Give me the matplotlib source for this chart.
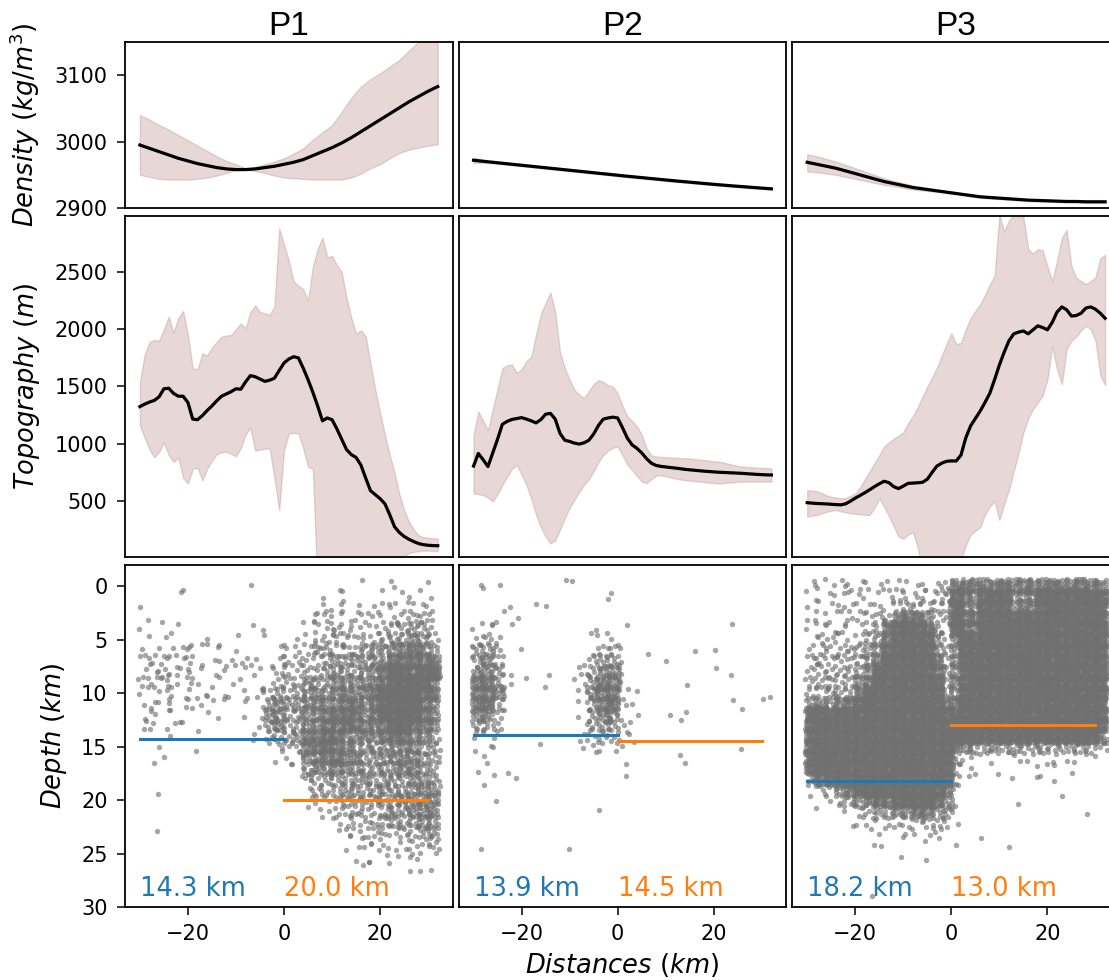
import numpy as np
import matplotlib
matplotlib.use("Agg")
import matplotlib.pyplot as plt
from matplotlib.gridspec import GridSpec

profiles = ["P1", "P2", "P3"]

# density models (kg/m^3) along each profile, every 2 km
dens_x = np.arange(-30, 33, 2)
dens_mean = [
    [2995, 2990, 2985, 2980, 2975, 2971, 2967, 2964, 2961, 2959, 2958, 2958, 2959, 2961, 2963, 2966,
     2969, 2973, 2979, 2985, 2991, 2998, 3006, 3015, 3024, 3033, 3042, 3051, 3060, 3068, 3076, 3083],
    [2972, 2970.5, 2969, 2967.5, 2966, 2964.5, 2963, 2961.5, 2960, 2958.5, 2957, 2955.5, 2954, 2952.5,
     2951, 2949.5, 2948, 2946.6, 2945.2, 2943.8, 2942.4, 2941, 2939.7, 2938.4, 2937.1, 2935.8, 2934.6,
     2933.4, 2932.3, 2931.2, 2930.1, 2929],
    [2969, 2966, 2963, 2960, 2956, 2952, 2948, 2944, 2940, 2937, 2934, 2931, 2929, 2927, 2925, 2923,
     2921, 2919, 2917, 2916, 2915, 2914, 2913, 2912, 2911.5, 2911, 2910.5, 2910, 2910, 2909.5, 2909.5, 2909.5],
]
dens_low = [
    [2950, 2947, 2944, 2943, 2943, 2943, 2944, 2946, 2949, 2953, 2957, 2958, 2956, 2953, 2949, 2946,
     2945, 2944, 2943, 2943, 2943, 2943, 2946, 2952, 2960, 2966, 2975, 2983, 2988, 2991, 2994, 2996],
    [2968, 2968, 2967.5, 2966, 2964.5, 2963, 2961.5, 2960, 2958.5, 2957, 2955.5, 2954, 2952.5, 2951,
     2949.5, 2948, 2946.5, 2945.1, 2943.7, 2942.3, 2940.9, 2939.5, 2938.2, 2936.9, 2935.6, 2934.3, 2933.1,
     2931.9, 2930.8, 2929.7, 2928.6, 2927.5],
    [2955, 2954, 2952, 2950, 2947, 2944, 2941, 2938, 2935, 2933, 2930.5, 2928, 2926.5, 2925, 2923.5, 2921.5,
     2919.5, 2917.5, 2915.5, 2914.5, 2913.5, 2912.5, 2911.5, 2910.5, 2910, 2909.5, 2909, 2908.5, 2908.5,
     2908, 2908, 2908],
]
dens_high = [
    [3040, 3033, 3025, 3018, 3010, 3002, 2994, 2986, 2978, 2971, 2966, 2960, 2962, 2966, 2970, 2975,
     2982, 2990, 3003, 3014, 3025, 3045, 3066, 3083, 3094, 3103, 3113, 3123, 3137, 3150, 3165, 3180],
    [2976, 2973, 2970.5, 2969, 2967.5, 2966, 2964.5, 2963, 2961.5, 2960, 2958.5, 2957, 2955.5, 2954,
     2952.5, 2951, 2949.5, 2948.1, 2946.7, 2945.3, 2943.9, 2942.5, 2941.2, 2939.9, 2938.6, 2937.3, 2936.1,
     2934.9, 2933.8, 2932.7, 2931.6, 2930.5],
    [2981, 2978, 2974, 2970, 2965, 2960, 2955, 2950, 2945, 2941, 2937.5, 2934, 2931.5, 2929, 2926.5, 2924.5,
     2922.5, 2920.5, 2918.5, 2917.5, 2916.5, 2915.5, 2914.5, 2913.5, 2913, 2912.5, 2912, 2911.5, 2911.5,
     2911, 2911, 2911],
]

# topography (m) along each profile, every 1 km
topo_x = np.arange(-30, 33, 1)
topo_mean = [
    [1324, 1346, 1364, 1378, 1410, 1480, 1485, 1440, 1415, 1415,
     1360, 1215, 1210, 1245, 1290, 1330, 1375, 1415, 1435, 1455,
     1480, 1476, 1540, 1595, 1585, 1565, 1545, 1555, 1572, 1640,
     1705, 1740, 1760, 1750, 1660, 1560, 1450, 1330, 1200, 1225,
     1210, 1130, 1040, 950, 905, 880, 814, 700, 590, 555,
     520, 475, 380, 275, 225, 190, 165, 145, 128, 118,
     113, 110, 109],
    [805, 915, 860, 800, 920, 1040, 1170, 1195, 1212, 1220,
     1228, 1215, 1200, 1182, 1210, 1258, 1265, 1215, 1090, 1030,
     1020, 1005, 997, 1008, 1030, 1085, 1160, 1215, 1225, 1232,
     1225, 1140, 1050, 990, 960, 920, 870, 830, 810, 802,
     797, 792, 787, 782, 776, 772, 768, 764, 760, 757,
     754, 751, 749, 747, 745, 743, 741, 738, 735, 732,
     730, 728, 727],
    [485, 481, 478, 476, 474, 471, 468, 466, 475, 498,
     525, 548, 572, 598, 625, 650, 672, 660, 625, 608,
     630, 654, 656, 659, 663, 690, 750, 805, 830, 846,
     850, 849, 900, 1050, 1155, 1220, 1285, 1360, 1440, 1560,
     1688, 1800, 1900, 1960, 1975, 1985, 1960, 1995, 2030, 2015,
     1995, 2060, 2150, 2195, 2170, 2115, 2120, 2140, 2185, 2195,
     2175, 2140, 2096],
]
topo_low = [
    [1160, 1050, 950, 880, 930, 1010, 900, 840, 880, 700,
     650, 780, 790, 680, 780, 850, 910, 925, 930, 910,
     890, 960, 1080, 1140, 940, 950, 955, 960, 700, 420,
     940, 1090, 1095, 1090, 960, 800, 780, -300, -300, -300,
     -300, -300, -300, -300, -300, -300, -300, -300, -300, -300,
     -300, -300, -300, -300, -100, 20, 45, 55, 62, 66,
     66, 64, 62],
    [567, 560, 550, 530, 495, 560, 640, 710, 780, 815,
     730, 640, 520, 380, 270, 190, 130, 155, 250, 350,
     440, 510, 580, 640, 690, 760, 840, 900, 940, 965,
     975, 900, 820, 770, 720, 670, 655, 690, 720, 725,
     715, 705, 695, 688, 683, 678, 674, 670, 665, 660,
     656, 654, 656, 660, 664, 667, 669, 670, 670, 670,
     670, 669, 669],
    [363, 370, 378, 392, 405, 415, 421, 410, 400, 392,
     388, 383, 379, 378, 440, 520, 450, 370, 280, 190,
     170, 205, 230, 90, -100, -250, -250, -250, -250, -250,
     -250, -250, -20, 110, 205, 240, 270, 380, 450, 500,
     334, 470, 600, 760, 920, 1100, 1220, 1300, 1360, 1420,
     1560, 1850, 1650, 1520, 1830, 1900, 1935, 1990, 2030, 2000,
     1900, 1600, 1514],
]
topo_high = [
    [1540, 1780, 1890, 1905, 1900, 2000, 2110, 1970, 2100, 2160,
     1950, 1660, 1650, 1790, 1770, 1840, 1890, 1935, 1945, 1950,
     2000, 2050, 2010, 2150, 2210, 2150, 2140, 2125, 2200, 2880,
     2740, 2600, 2420, 2380, 2350, 2250, 2550, 2700, 2800, 2630,
     2640, 2560, 2500, 2280, 2100, 1960, 1990, 1940, 1700, 1470,
     1270, 1080, 900, 750, 560, 420, 320, 250, 200, 185,
     178, 175, 172],
    [1080, 1280, 1200, 1120, 1300, 1480, 1660, 1685, 1692, 1620,
     1650, 1720, 1760, 1950, 2130, 2230, 2320, 2150, 1800, 1660,
     1560, 1470, 1430, 1400, 1460, 1520, 1555, 1540, 1510, 1500,
     1440, 1330, 1240, 1200, 1150, 1080, 960, 900, 888, 885,
     882, 880, 878, 875, 873, 870, 866, 862, 857, 852,
     847, 843, 835, 825, 815, 805, 800, 797, 794, 791,
     789, 787, 785],
    [596, 590, 585, 570, 548, 536, 530, 524, 525, 545,
     565, 620, 690, 760, 830, 900, 975, 1010, 1045, 1070,
     1100, 1180, 1240, 1320, 1410, 1500, 1580, 1665, 1770, 1870,
     1965, 1870, 1880, 2000, 2096, 2160, 2220, 2300, 2390, 2470,
     3000, 2850, 2950, 3000, 3010, 2980, 2700, 2660, 2700, 2690,
     2550, 2420, 2600, 2800, 2868, 2550, 2450, 2420, 2395, 2420,
     2455, 2620, 2650],
]

# seismicity: events per cell, one row per km of depth (0-29 km),
# one character per 2 km of distance starting at -32 km
level_count = {"0": 0, "1": 1, "2": 2, "3": 4, "4": 7, "5": 11, "6": 18, "7": 32}
quakes = [
    [  # P1
        "00000100 00001000 00000101 00020001",
        "00000100 00000000 00001110 01111211",
        "01000000 00000000 00012211 12112211",
        "00110000 00000100 00122222 22232332",
        "01001000 00000100 00123322 22233442",
        "01011110 11010010 11223322 33344543",
        "02122211 11110001 22333333 44456654",
        "02222211 11111112 23333444 44566666",
        "02232221 11111122 23334444 45677677",
        "02222211 11111123 33444555 55677776",
        "02122211 11111134 34455555 56777766",
        "01221111 10111145 44555566 56777765",
        "01211111 10001155 44556666 56777765",
        "01111010 00000145 34556666 55677665",
        "01101000 00001134 34666655 55666554",
        "00100000 00000012 33666655 44555544",
        "00110010 00000001 12556655 44555544",
        "00000000 00000001 11455555 44455544",
        "00000000 00000000 01344444 44444544",
        "00000000 00000000 00233444 44444555",
        "00100000 00000000 00122333 33444555",
        "00000000 00000000 00012233 33444555",
        "00000000 00000000 00001223 33344455",
        "00100000 00000000 00000122 22333344",
        "00000000 00000000 00000012 22222233",
        "00000000 00000000 00000001 11121122",
        "00000000 00000000 00000001 11101011",
        "00000000 00000000 00000000 00000100",
        "00000000 00000000 00000000 00000000",
        "00000000 00000000 00000000 00000000",
    ],
    [  # P2
        "01110000 00110001 00000000 00000000",
        "00000000 00000001 00000000 00000000",
        "00000101 10000000 00000000 00000000",
        "00011100 00000000 00000000 00001000",
        "02211000 00000100 10000000 00000000",
        "03320000 00000112 10000000 00000000",
        "04430100 00000233 10000000 10100000",
        "04530000 00001344 10011000 00100000",
        "05541110 10002455 10000000 00001000",
        "06641100 10012466 11000001 00000000",
        "06652000 00012566 11000000 00010000",
        "06640000 00002466 21000000 00001011",
        "05530000 00001455 21000111 00000000",
        "04420000 00002344 21000000 00000000",
        "02210000 00002333 21000000 00000000",
        "01110001 00002221 10000000 00001000",
        "01100000 00000000 00000010 00000000",
        "01100000 00000000 10000001 00000000",
        "01001100 00000000 10000000 00000000",
        "00000000 00000000 00000000 00000000",
        "00010000 00000000 00000000 00000000",
        "00000000 00000010 00000000 00000000",
        "00000000 00000000 00000000 00000000",
        "00000000 00000000 00000000 00000000",
        "01000000 00010000 00000000 00000000",
        "00000000 00000000 00000000 00000000",
        "00000000 00000000 00000000 00000000",
        "00000000 00000000 00000000 00000000",
        "00000000 00000000 00000000 00000000",
        "00000000 00000000 00000000 00000000",
    ],
    [  # P3
        "02222222 22222224 66666666 66666666",
        "01111121 12222224 75577755 57777777",
        "02112122 22333332 75577755 57777777",
        "01212222 24666532 76677777 77777777",
        "02222223 36777642 76677777 77777777",
        "02232233 46777742 57777777 77777777",
        "02323334 57777752 57777777 77777777",
        "03233334 67777763 57777777 77777777",
        "03333345 77777763 57777777 77777777",
        "03333356 77777773 57777777 77777777",
        "03334467 77777774 57777777 77777777",
        "05555677 77777775 67777777 77777777",
        "07777777 77777777 77777777 77777777",
        "07777777 77777777 77777777 77777777",
        "07777777 77777777 77777777 77777776",
        "07777777 77777777 65444444 44444443",
        "07777777 77777777 42111111 11111110",
        "07777777 77777777 31101010 10101000",
        "05677777 77777777 21001010 11100000",
        "01235677 77777776 10000000 00010000",
        "00112456 66777765 10000010 00000000",
        "01001233 44556654 10000000 00000010",
        "00000112 22233332 10000000 00000000",
        "00000011 11111121 00000000 00000000",
        "00000001 10000100 10010000 00000000",
        "00000000 00100000 00000010 00000000",
        "00000000 00000100 00000000 00000000",
        "00000000 00000000 00000000 00000000",
        "00000000 00000000 00000000 00000000",
        "00000001 00000000 00000000 00000000",
    ],
]

# mean seismogenic depth west / east of the profile centre (km)
depth_west = [14.3, 13.9, 18.2]
depth_east = [20.0, 14.5, 13.0]


def cell_points(rows, x0=-32.0, dx=2.0, spread=1.4):
    # spread each cell's events over (a bit more than) the cell: R2 sequence
    # inside the cell, with a quadratic Weyl offset so cells don't line up
    xs, ys = [], []
    for r, row in enumerate(rows):
        for c, ch in enumerate(row.replace(" ", "")):
            m = r * 41 + c + 7
            su = (m * m * 0.7548776662 + m * 0.3183) % 1.0
            sv = (m * m * 0.5698402910 + m * 0.1417) % 1.0
            for j in range(level_count[ch]):
                u = (su + j * 0.7548776662466927) % 1.0
                v = (sv + j * 0.5698402909980532) % 1.0
                xs.append(x0 + (c + 0.5 + (u - 0.5) * spread) * dx)
                ys.append(r + (v - 0.5) * spread)
    return np.array(xs), np.array(ys)


band_color = "rosybrown"
fig = plt.figure(figsize=(11.09, 9.8), dpi=100)
gs = GridSpec(3, 3, figure=fig, left=0.1127, right=1.0099, top=0.9571, bottom=0.0745,
              wspace=0.0183, hspace=0.0276, height_ratios=[166, 341, 342])

for c in range(3):
    ax_d = fig.add_subplot(gs[0, c])
    ax_t = fig.add_subplot(gs[1, c])
    ax_q = fig.add_subplot(gs[2, c])

    ax_d.fill_between(dens_x, dens_low[c], dens_high[c], color=band_color, alpha=0.35, lw=1)
    ax_d.plot(dens_x, dens_mean[c], color="black", lw=2.3)
    ax_d.set_ylim(2900, 3150)
    ax_d.set_yticks([2900, 3000, 3100])
    ax_d.set_title(profiles[c], fontsize=24, family="Liberation Sans", pad=3)

    ax_t.fill_between(topo_x, topo_low[c], topo_high[c], color=band_color, alpha=0.35, lw=1)
    ax_t.plot(topo_x, topo_mean[c], color="black", lw=2.3)
    ax_t.set_ylim(10, 2990)
    ax_t.set_yticks([500, 1000, 1500, 2000, 2500])

    qx, qy = cell_points(quakes[c])
    ax_q.scatter(qx, qy, s=15, color="#707070", alpha=0.62, linewidths=0)
    ax_q.plot([-30, 0], [depth_west[c], depth_west[c]], color="C0", lw=2.2)
    ax_q.plot([0, 30], [depth_east[c], depth_east[c]], color="C1", lw=2.2)
    ax_q.text(-30, 29, f"{depth_west[c]:.1f} km", color="C0", fontsize=18.5)
    ax_q.text(0, 29, f"{depth_east[c]:.1f} km", color="C1", fontsize=18.5)
    ax_q.set_ylim(30, -2)
    ax_q.set_yticks([0, 5, 10, 15, 20, 25, 30])
    ax_q.set_xticks([-20, 0, 20])

    for r, ax in enumerate([ax_d, ax_t, ax_q]):
        ax.set_xlim(-33.1, 35.1)
        for sp in ax.spines.values():
            sp.set_linewidth(1.3)
        ax.tick_params(labelsize=15, length=5.5, width=1.1, pad=7)
        if r < 2:
            ax.tick_params(bottom=False, labelbottom=False)
        if c > 0:
            ax.tick_params(left=False, labelleft=False)

    if c == 0:
        ax_d.set_ylabel(r"$Density\ (kg/m^3)$", fontsize=18.5, labelpad=9)
        ax_t.set_ylabel(r"$Topography\ (m)$", fontsize=18.5, labelpad=9)
        ax_q.set_ylabel(r"$Depth\ (km)$", fontsize=18.5, labelpad=9)
    if c == 1:
        ax_q.set_xlabel(r"$Distances\ (km)$", fontsize=18.5, labelpad=5)

fig.savefig("out.png", dpi=100)
